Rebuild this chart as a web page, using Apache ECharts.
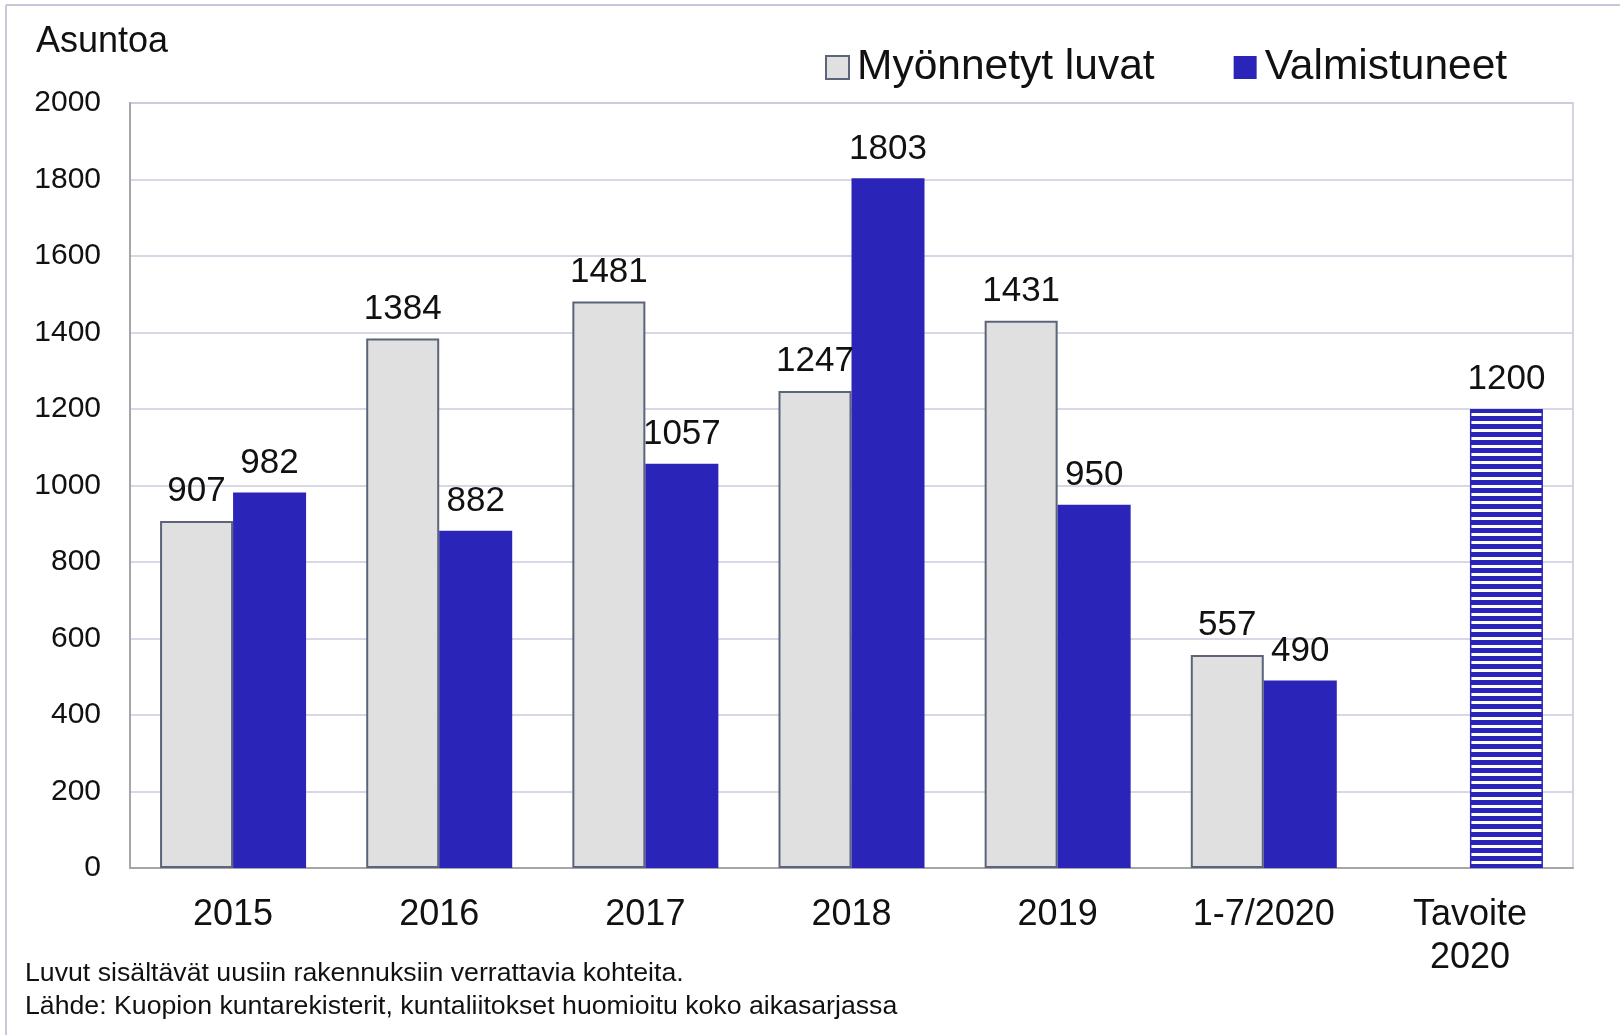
<!DOCTYPE html>
<html>
<head>
<meta charset="utf-8">
<script src="https://cdn.jsdelivr.net/npm/echarts@6/dist/echarts.min.js"></script>
<style>
  html, body { margin: 0; padding: 0; background: #fff; }
  #chart { width: 1620px; height: 1035px; }
</style>
</head>
<body>
<div id="chart"></div>
<script>
// data
const categories = ['2015', '2016', '2017', '2018', '2019', '1-7/2020', 'Tavoite\n2020'];
const permits = [907, 1384, 1481, 1247, 1431, 557, null];
const completed = [982, 882, 1057, 1803, 950, 490, 1200];
const yTicks = [0, 200, 400, 600, 800, 1000, 1200, 1400, 1600, 1800, 2000];
const notes = [
  'Luvut sisältävät uusiin rakennuksiin verrattavia kohteita.',
  'Lähde: Kuopion kuntarekisterit, kuntaliitokset huomioitu koko aikasarjassa'
];

const FONT = '"Liberation Sans", Arial, sans-serif';
const BLUE = '#2a24b8';

// striped fill for the target bar
const stripe = document.createElement('canvas');
stripe.width = 8; stripe.height = 8;
const sctx = stripe.getContext('2d');
sctx.fillStyle = '#ffffff';
sctx.fillRect(0, 0, 8, 8);
sctx.fillStyle = BLUE;
sctx.fillRect(0, 0, 8, 5);

const completedData = completed.map(function (v, i) {
  if (i === completed.length - 1) {
    return {
      value: v,
      itemStyle: { color: { image: stripe, repeat: 'repeat' }, borderColor: BLUE, borderWidth: 1.5 }
    };
  }
  return v;
});

const chart = echarts.init(document.getElementById('chart'));

const labelStyle = {
  show: true,
  position: 'top',
  distance: 12,
  fontSize: 35,
  fontFamily: FONT,
  color: '#111'
};

chart.setOption({
  animation: false,
  backgroundColor: '#fff',
  textStyle: { fontFamily: FONT },
  grid: {
    left: 130, right: 47, top: 103, bottom: 167,
    show: true, borderColor: '#c4c8d6', borderWidth: 1.5
  },
  legend: {
    left: 820,
    top: 41,
    icon: 'rect',
    itemWidth: 23,
    itemHeight: 23,
    itemGap: 79,
    textStyle: { fontSize: 42.5, fontFamily: FONT, color: '#111', padding: [0, 0, 0, 3] },
    data: ['Myönnetyt luvat', 'Valmistuneet']
  },
  xAxis: {
    type: 'category',
    data: categories,
    axisLine: { lineStyle: { color: '#a6a6a6', width: 2 } },
    axisTick: { show: false },
    axisLabel: { fontSize: 36, lineHeight: 43, color: '#111', margin: 26, fontFamily: FONT }
  },
  yAxis: {
    type: 'value',
    min: yTicks[0],
    max: yTicks[yTicks.length - 1],
    interval: 200,
    axisLine: { show: true, lineStyle: { color: '#a6a6a6', width: 2 } },
    axisTick: { show: false },
    splitLine: { lineStyle: { color: '#c8ccdc', width: 1.5 } },
    axisLabel: {
      fontSize: 30, color: '#111', margin: 29, fontFamily: FONT,
      formatter: function (v) { return String(v); }
    }
  },
  series: [
    {
      name: 'Myönnetyt luvat',
      type: 'bar',
      data: permits,
      barWidth: 73,
      barGap: '0%',
      itemStyle: { color: '#e0e0e0', borderColor: '#5b6478', borderWidth: 2 },
      label: labelStyle
    },
    {
      name: 'Valmistuneet',
      type: 'bar',
      data: completedData,
      barWidth: 73,
      barGap: '0%',
      itemStyle: { color: BLUE },
      label: labelStyle
    }
  ],
  graphic: [
    { type: 'line', shape: { x1: 6, y1: 5, x2: 1620, y2: 5 }, style: { stroke: '#c4c8d8', lineWidth: 2 } },
    { type: 'line', shape: { x1: 6, y1: 5, x2: 6, y2: 1035 }, style: { stroke: '#c4c8d8', lineWidth: 2 } },
    { type: 'text', left: 36, top: 24, style: { text: 'Asuntoa', fontSize: 36, fontFamily: FONT, fill: '#111' } },
    { type: 'text', left: 25, top: 960, style: { text: notes[0], fontSize: 26.7, fontFamily: FONT, fill: '#111' } },
    { type: 'text', left: 25, top: 993, style: { text: notes[1], fontSize: 26.7, fontFamily: FONT, fill: '#111' } }
  ]
});
</script>
</body>
</html>
